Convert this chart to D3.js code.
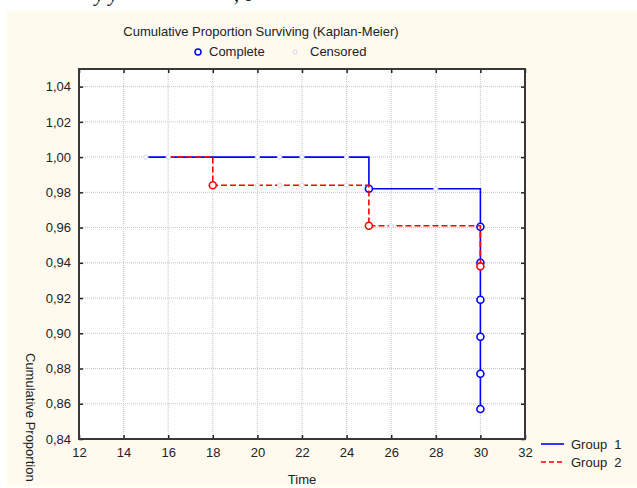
<!DOCTYPE html>
<html>
<head>
<meta charset="utf-8">
<script src="https://cdn.jsdelivr.net/npm/d3@7"></script>
<style>
  body { margin: 0; background: #fff; }
  svg { display: block; font-family: "Liberation Sans", Arial, sans-serif; }
</style>
</head>
<body>
<div class="chart"></div>
<script>
const width = 637
const height = 488
const plot = { left: 79, right: 525, top: 69, bottom: 439 }

// data
const xTicks = [12, 14, 16, 18, 20, 22, 24, 26, 28, 30, 32]
const yTicks = [0.84, 0.86, 0.88, 0.90, 0.92, 0.94, 0.96, 0.98, 1.00, 1.02, 1.04]

// group 1: start time, then events (time, proportion after event)
const g1Start = 15
const g1EventTimes = [25, 30, 30, 30, 30, 30, 30]
const g1EventValues = [0.982, 0.9605, 0.940, 0.919, 0.898, 0.877, 0.857]
const g1Censored = [15, 20, 21, 22, 24, 28]

const g2Start = 16
const g2EventTimes = [18, 25, 30]
const g2EventValues = [0.984, 0.961, 0.938]
const g2Censored = [16, 20, 21, 22, 24, 26]

const groups = [
    { name: 'Group  1', color: '#0000ff', dash: null, start: g1Start, times: g1EventTimes, values: g1EventValues, censored: g1Censored },
    { name: 'Group  2', color: '#ff0000', dash: '6,3', start: g2Start, times: g2EventTimes, values: g2EventValues, censored: g2Censored }
]

const comma = d => d3.format('.2f')(d).replace('.', ',')

const svg = d3.select('.chart').append('svg')
    .attr('width', width)
    .attr('height', height)

// cut-off line of the surrounding document text
svg.append('text').attr('x', 95).attr('y', 1)
    .style('font-family', '"Liberation Serif", serif').style('font-style', 'italic')
    .style('font-size', '20px').attr('fill', '#111')
    .style('white-space', 'pre')
    .text('у у')
svg.append('text').attr('x', 234).attr('y', 1)
    .style('font-family', '"Liberation Serif", serif').style('font-style', 'italic')
    .style('font-size', '20px').attr('fill', '#111')
    .style('white-space', 'pre')
    .text(', д')

// cream panel
svg.append('rect')
    .attr('x', 7).attr('y', 11)
    .attr('width', width - 7).attr('height', 475)
    .attr('fill', '#fff9ee')

const x = d3.scaleLinear().domain([12, 32]).range([plot.left, plot.right])
const y = d3.scaleLinear().domain([0.84, 1.05]).range([plot.bottom, plot.top])

svg.append('rect')
    .attr('x', plot.left).attr('y', plot.top)
    .attr('width', plot.right - plot.left).attr('height', plot.bottom - plot.top)
    .attr('fill', '#fff')

// grid
svg.append('g').selectAll('line').data(xTicks.slice(1, -1)).enter().append('line')
    .attr('x1', d => x(d)).attr('x2', d => x(d))
    .attr('y1', plot.top).attr('y2', plot.bottom)
    .attr('stroke', '#c4c4c4').attr('stroke-dasharray', '1,1')
svg.append('g').selectAll('line').data(yTicks).enter().append('line')
    .attr('x1', plot.left).attr('x2', plot.right)
    .attr('y1', d => y(d)).attr('y2', d => y(d))
    .attr('stroke', '#c4c4c4').attr('stroke-dasharray', '1,1')

// axes
const fontSize = 13
svg.append('g')
    .attr('transform', `translate(0,${plot.bottom})`)
    .call(d3.axisBottom(x).tickValues(xTicks).tickSize(-4).tickPadding(9).tickFormat(d3.format('d')))
svg.append('g')
    .attr('transform', `translate(0,${plot.top})`)
    .call(d3.axisTop(x).tickValues(xTicks).tickSize(-4).tickFormat(''))
svg.append('g')
    .attr('transform', `translate(${plot.left},0)`)
    .call(d3.axisLeft(y).tickValues(yTicks).tickSize(-4).tickPadding(8).tickFormat(comma))
svg.append('g')
    .attr('transform', `translate(${plot.right},0)`)
    .call(d3.axisRight(y).tickValues(yTicks).tickSize(-4).tickFormat(''))

svg.selectAll('.domain').remove()
svg.selectAll('.tick line').attr('stroke', '#222').attr('stroke-width', 1.5)
svg.selectAll('.tick text')
    .attr('fill', '#222')
    .style('font-family', '"Liberation Sans", Arial, sans-serif')
    .style('font-size', fontSize + 'px')

// frame
svg.append('rect')
    .attr('x', plot.left).attr('y', plot.top)
    .attr('width', plot.right - plot.left).attr('height', plot.bottom - plot.top)
    .attr('fill', 'none').attr('stroke', '#383838').attr('stroke-width', 2)

// survival steps
const line = d3.line()
    .x(d => x(d[0]))
    .y(d => y(d[1]))
    .curve(d3.curveStepAfter)

const survivalAt = (g, t) => {
    let s = 1
    g.times.forEach((et, i) => { if (et <= t) s = g.values[i] })
    return s
}

groups.forEach(g => {
    const pts = [[g.start, 1]].concat(g.times.map((t, i) => [t, g.values[i]]))
    svg.append('path')
        .datum(pts)
        .attr('d', line)
        .attr('fill', 'none')
        .attr('stroke', g.color)
        .attr('stroke-width', 1.6)
        .attr('stroke-dasharray', g.dash)

    svg.append('g').selectAll('circle')
        .data(g.censored).enter().append('circle')
        .attr('cx', d => x(d))
        .attr('cy', d => y(survivalAt(g, d)))
        .attr('r', 2.2)
        .attr('fill', '#fff')
        .attr('stroke', '#d4d4ec')
        .attr('stroke-width', 1)

    svg.append('g').selectAll('circle')
        .data(g.times.map((t, i) => [t, g.values[i]])).enter().append('circle')
        .attr('cx', d => x(d[0]))
        .attr('cy', d => y(d[1]))
        .attr('r', 3.5)
        .attr('fill', '#fff')
        .attr('stroke', g.color)
        .attr('stroke-width', 1.6)
})

// titles
svg.append('text')
    .attr('x', 261).attr('y', 36)
    .attr('text-anchor', 'middle')
    .style('font-size', '13px').attr('fill', '#222')
    .text('Cumulative Proportion Surviving (Kaplan-Meier)')

svg.append('circle').attr('cx', 198).attr('cy', 52).attr('r', 3)
    .attr('fill', 'none').attr('stroke', '#0000ff').attr('stroke-width', 1.5)
svg.append('text').attr('x', 209).attr('y', 56)
    .style('font-size', '13px').attr('fill', '#222').text('Complete')
svg.append('circle').attr('cx', 295).attr('cy', 52).attr('r', 2)
    .attr('fill', '#fff').attr('stroke', '#d4d4ec').attr('stroke-width', 1)
svg.append('text').attr('x', 310).attr('y', 56)
    .style('font-size', '13px').attr('fill', '#222').text('Censored')

svg.append('text')
    .attr('x', (plot.left + plot.right) / 2).attr('y', 484)
    .attr('text-anchor', 'middle')
    .style('font-size', '13px').attr('fill', '#222')
    .text('Time')

// y label, running off the bottom of the panel as in the source
svg.append('clipPath').attr('id', 'panelClip')
    .append('rect').attr('x', 7).attr('y', 11).attr('width', width - 7).attr('height', 475)
svg.append('g')
    .attr('clip-path', 'url(#panelClip)')
    .append('text')
    .attr('transform', 'translate(26,353) rotate(90)')
    .style('font-size', '13px').attr('fill', '#222')
    .text('Cumulative Proportion Surviving')

// legend
const legend = svg.append('g')
groups.forEach((g, i) => {
    const ly = 444 + i * 18
    legend.append('line')
        .attr('x1', 541).attr('x2', 564).attr('y1', ly).attr('y2', ly)
        .attr('stroke', g.color).attr('stroke-width', 1.6)
        .attr('stroke-dasharray', g.dash ? '5,3' : null)
    legend.append('text')
        .attr('x', 571).attr('y', ly + 5)
        .style('font-size', '13px').attr('fill', '#222')
        .style('white-space', 'pre')
        .text(g.name)
})
</script>
</body>
</html>
